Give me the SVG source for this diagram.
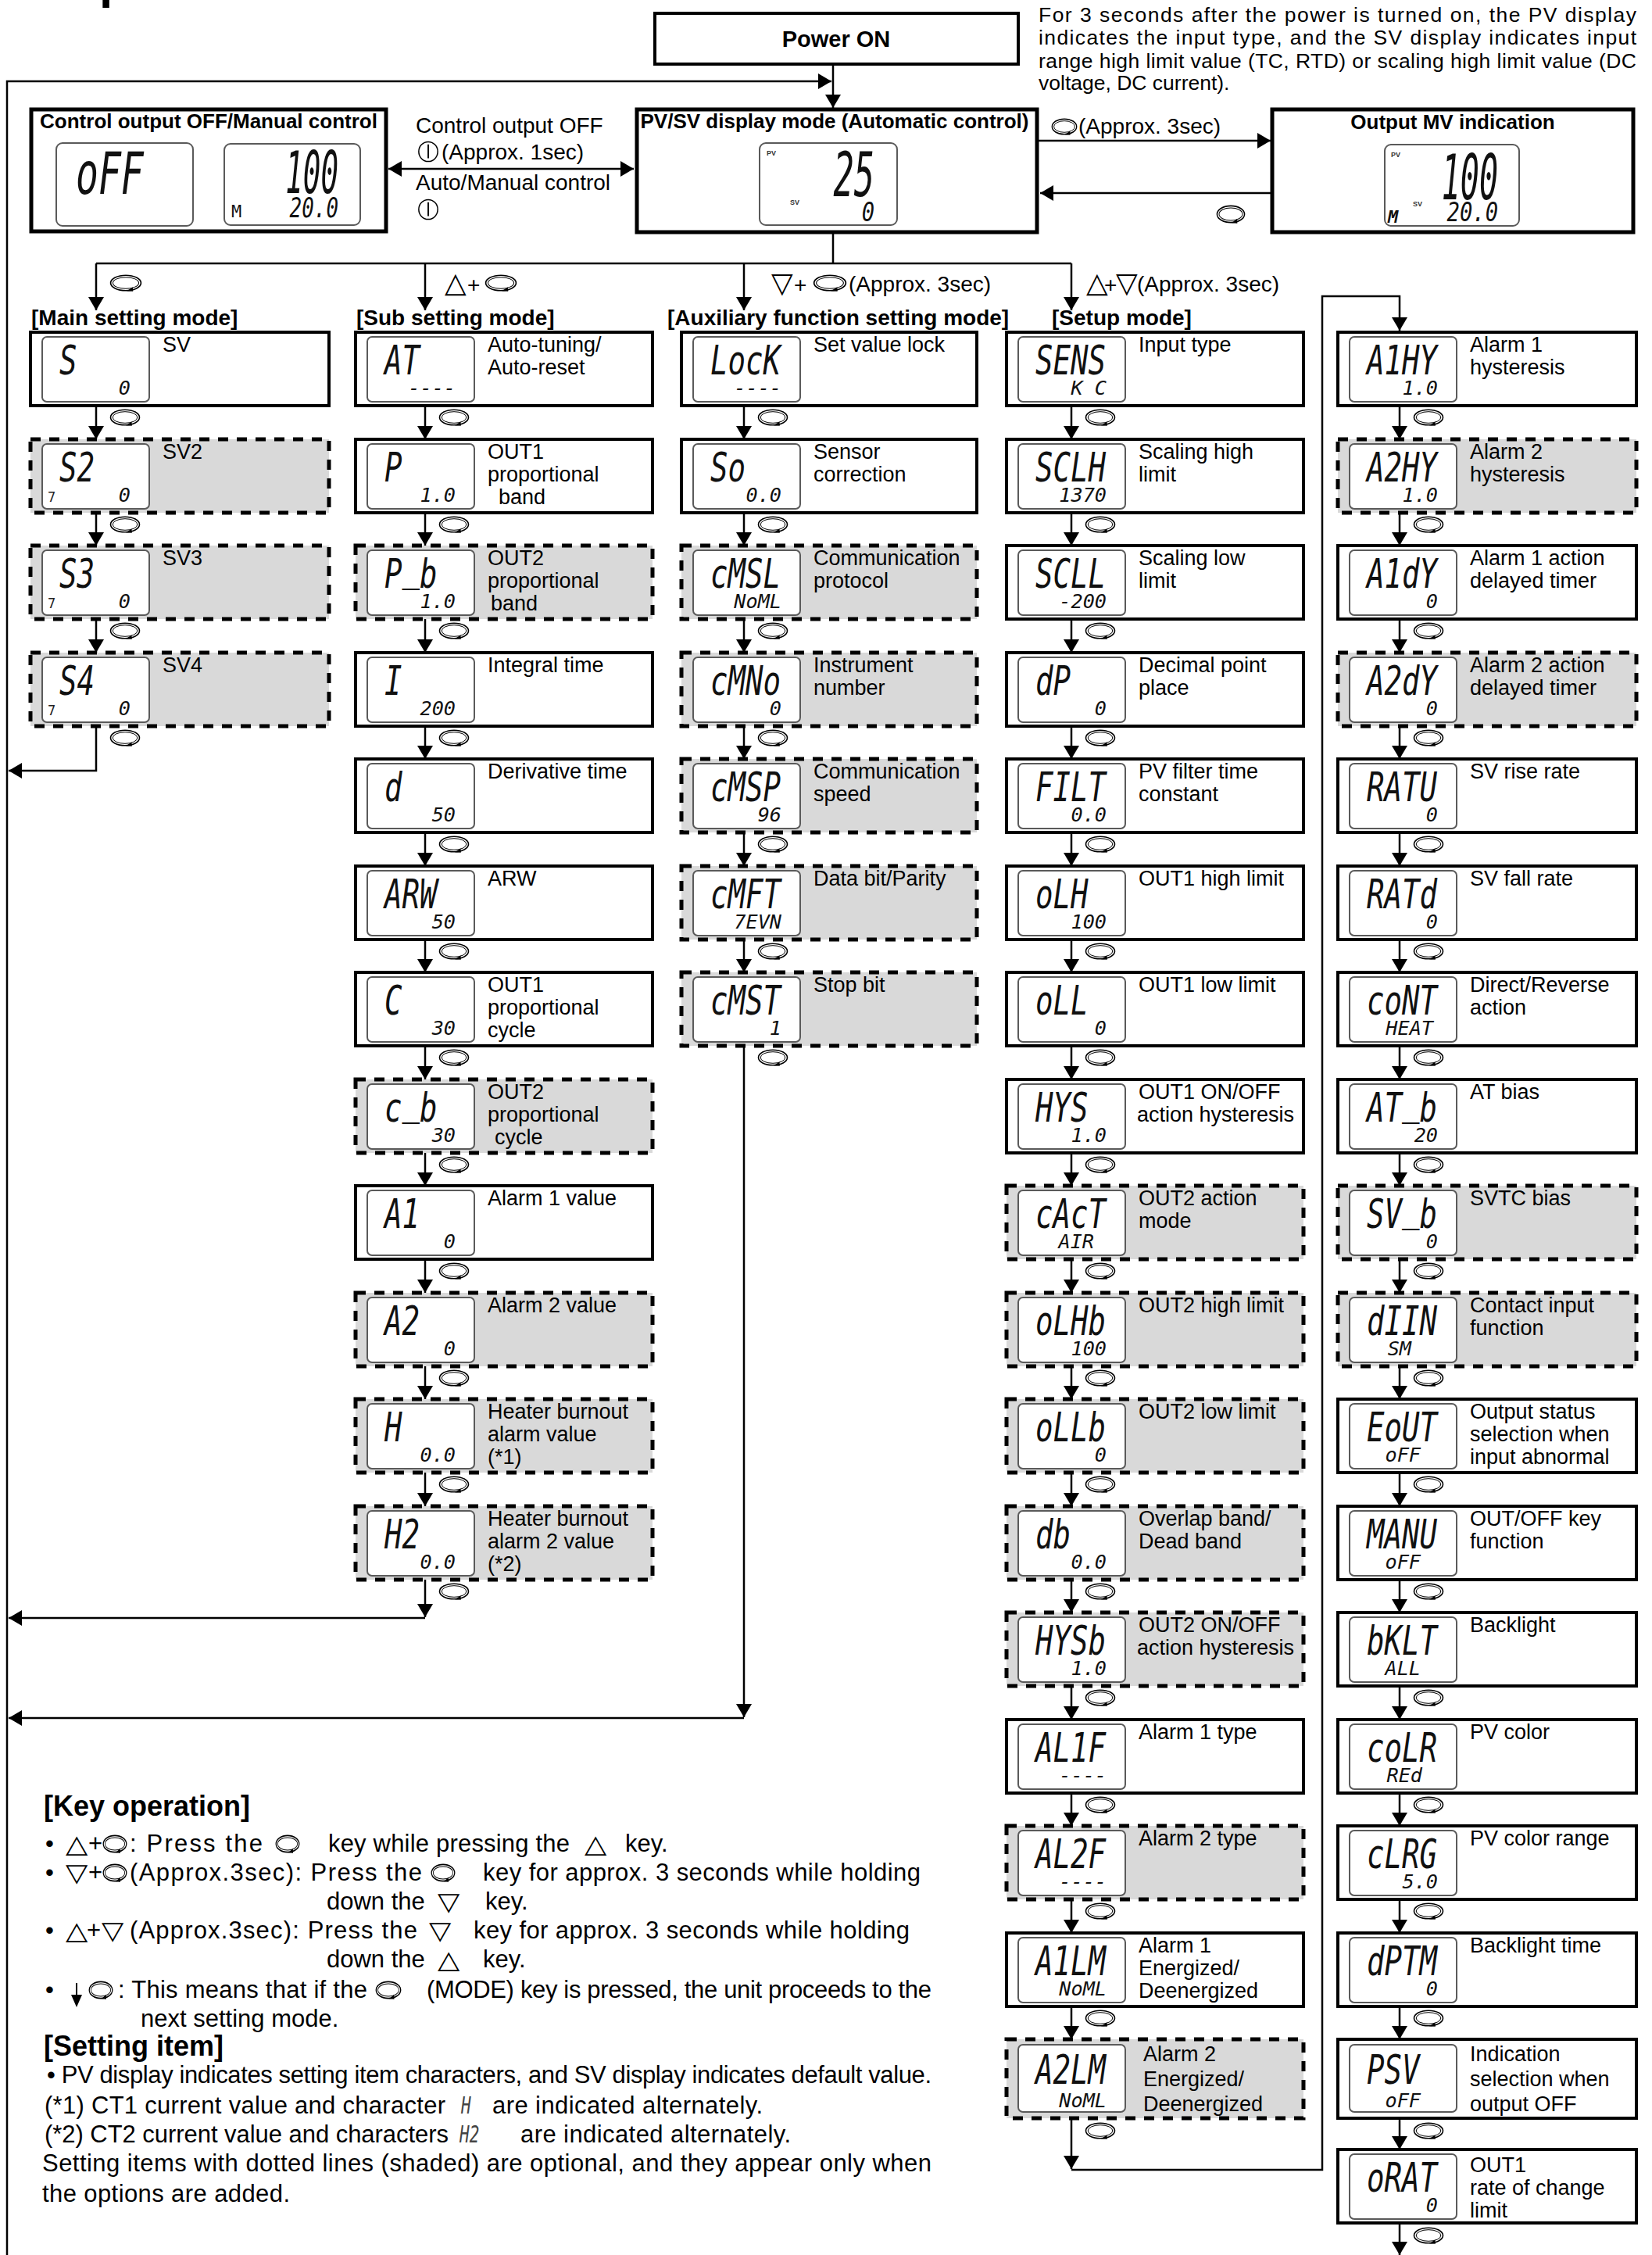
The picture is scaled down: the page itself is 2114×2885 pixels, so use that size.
<svg xmlns="http://www.w3.org/2000/svg" width="2114" height="2885" viewBox="0 0 2114 2885">
<defs>
<style>
.bx{fill:#fff;stroke:#000;stroke-width:4}
.bt{fill:#fff;stroke:#000;stroke-width:5}
.bd{fill:#d9d9d9;stroke:#000;stroke-width:5;stroke-dasharray:13 11}
.lc{fill:#fff;stroke:#5a5a5a;stroke-width:2}
.lb{font-family:"Liberation Sans",Arial,sans-serif;font-size:27px;fill:#000}
.sg{font-family:"DejaVu Sans Mono",monospace;font-style:oblique;font-size:52px;fill:#111}
.sb{font-family:"DejaVu Sans Mono",monospace;font-style:oblique;font-size:24px;fill:#111;text-anchor:end}
.sm{font-family:"DejaVu Sans Mono",monospace;font-size:17px;fill:#222}
.tiny{font-family:"Liberation Sans",Arial,sans-serif;font-weight:bold;font-size:9px;fill:#333}
.hd{font-family:"Liberation Sans",Arial,sans-serif;font-weight:bold;font-size:28px}
.tt{font-family:"Liberation Sans",Arial,sans-serif;font-weight:bold;font-size:26px;text-anchor:middle}
.cl{font-family:"Liberation Sans",Arial,sans-serif;font-size:28px}
.nt{font-family:"Liberation Sans",Arial,sans-serif;font-size:26.5px}
.kb{font-family:"Liberation Sans",Arial,sans-serif;font-size:31px}
.kh{font-family:"Liberation Sans",Arial,sans-serif;font-weight:bold;font-size:36px}
.tr{font-family:"DejaVu Sans",sans-serif;font-size:36px}
.tk{font-family:"DejaVu Sans",sans-serif;font-size:32px}
.ln{fill:none;stroke:#000;stroke-width:2.5}
.ar{fill:none;stroke:#000;stroke-width:2.5;marker-end:url(#ah)}
</style>
<marker id="ah" viewBox="0 0 17 20" refX="17" refY="10" markerWidth="17" markerHeight="20" markerUnits="userSpaceOnUse" orient="auto-start-reverse"><path d="M0,0L17,10L0,20Z" fill="#000"/></marker>
<symbol id="mk" viewBox="0 0 40 22" preserveAspectRatio="none"><ellipse cx="20" cy="11" rx="18.5" ry="9.8" fill="none" stroke="#000" stroke-width="1.6"/><ellipse cx="20" cy="11" rx="15.8" ry="7.3" fill="none" stroke="#000" stroke-width="1"/><path d="M21,21.2L28.5,16.5L28.8,21.8Z" fill="#000"/></symbol>
<symbol id="ko" viewBox="0 0 30 30"><ellipse cx="15" cy="15" rx="13" ry="13.5" fill="none" stroke="#000" stroke-width="1.6"/><path d="M15 5V24" stroke="#000" stroke-width="2"/></symbol>
</defs>
<rect width="2114" height="2885" fill="#fff"/>
<text x="127" y="-3" style="font-family:'Liberation Sans',Arial,sans-serif;font-weight:bold;font-size:62px">p</text>

<g id="note">
<text class="nt" x="1329" y="28" textLength="765" lengthAdjust="spacing">For 3 seconds after the power is turned on, the PV display</text>
<text class="nt" x="1329" y="57" textLength="765" lengthAdjust="spacing">indicates the input type, and the SV display indicates input</text>
<text class="nt" x="1329" y="87" textLength="765" lengthAdjust="spacing">range high limit value (TC, RTD) or scaling high limit value (DC</text>
<text class="nt" x="1329" y="115">voltage, DC current).</text>
</g>

<g id="nodes">
<g id="n-power"><rect class="bx" x="838" y="17" width="465" height="65"/><text class="tt" x="1070" y="60" style="font-size:29px">Power ON</text></g>

<g id="n-ctrloff"><rect class="bt" x="40" y="140" width="454" height="156"/><text class="tt" x="267" y="164">Control output OFF/Manual control</text>
<rect class="lc" x="72" y="183" width="175" height="106" rx="8"/><text class="sg" style="font-size:75px" transform="matrix(.64 0 0 1 97 248)">oFF</text>
<rect class="lc" x="287" y="184" width="174" height="104" rx="8"/><text class="sg" style="font-size:75px;text-anchor:end" transform="matrix(.5 0 0 1 433 247)">100</text><text class="sg" style="font-size:22px;font-style:normal" x="296" y="278">M</text><text class="sb" style="font-size:36px" transform="matrix(.72 0 0 1 433 278)">20.0</text></g>

<g id="n-pvsv"><rect class="bt" x="815" y="140" width="512" height="157"/><text class="tt" x="1068" y="164">PV/SV display mode (Automatic control)</text>
<rect class="lc" x="972" y="183" width="176" height="105" rx="8"/><text class="tiny" x="981" y="199">PV</text><text class="tiny" x="1011" y="262">SV</text><text class="sg" style="font-size:78px;text-anchor:end" transform="matrix(.56 0 0 1 1119 251)">25</text><text class="sb" style="font-size:34px" transform="matrix(.8 0 0 1 1119 283)">0</text></g>

<g id="n-mv"><rect class="bt" x="1628" y="140" width="462" height="157"/><text class="tt" x="1859" y="165">Output MV indication</text>
<rect class="lc" x="1772" y="185" width="172" height="104" rx="8"/><text class="tiny" x="1780" y="201">PV</text><text class="tiny" x="1808" y="264">SV</text><text class="sg" style="font-size:80px;text-anchor:end" transform="matrix(.5 0 0 1 1917 255)">100</text><text class="sg" style="font-size:22px;font-weight:bold" x="1776" y="285">M</text><text class="sb" style="font-size:34px" transform="matrix(.8 0 0 1 1917 283)">20.0</text></g>

<!-- Main setting mode -->
<text class="hd" x="40" y="416">[Main setting mode]</text>
<g id="n-sv"><rect class="bx" x="39" y="425" width="382" height="94"/><rect class="lc" x="54" y="431" width="137" height="83" rx="6"/><text class="sg" transform="matrix(.72 0 0 1 76 479)">S</text><text class="sb" transform="matrix(1.05 0 0 1 167 505)">0</text><text class="lb" x="208" y="450">SV</text></g>
<g id="n-sv2"><rect class="bd" x="39" y="562" width="382" height="94"/><rect class="lc" x="54" y="568" width="137" height="83" rx="6"/><text class="sg" transform="matrix(.72 0 0 1 76 616)">S2</text><text class="sm" x="61" y="642">7</text><text class="sb" transform="matrix(1.05 0 0 1 167 642)">0</text><text class="lb" x="208" y="587">SV2</text></g>
<g id="n-sv3"><rect class="bd" x="39" y="698" width="382" height="94"/><rect class="lc" x="54" y="704" width="137" height="83" rx="6"/><text class="sg" transform="matrix(.72 0 0 1 76 752)">S3</text><text class="sm" x="61" y="778">7</text><text class="sb" transform="matrix(1.05 0 0 1 167 778)">0</text><text class="lb" x="208" y="723">SV3</text></g>
<g id="n-sv4"><rect class="bd" x="39" y="835" width="382" height="94"/><rect class="lc" x="54" y="841" width="137" height="83" rx="6"/><text class="sg" transform="matrix(.72 0 0 1 76 889)">S4</text><text class="sm" x="61" y="915">7</text><text class="sb" transform="matrix(1.05 0 0 1 167 915)">0</text><text class="lb" x="208" y="860">SV4</text></g>

<!-- Sub setting mode -->
<text class="hd" x="456" y="416">[Sub setting mode]</text>
<g id="n-at"><rect class="bx" x="455" y="425" width="380" height="94"/><rect class="lc" x="470" y="431" width="137" height="83" rx="6"/><text class="sg" transform="matrix(.72 0 0 1 492 479)">AT</text><text class="sb" transform="matrix(1.05 0 0 1 583 505)">----</text><text class="lb" x="624" y="450">Auto-tuning/</text><text class="lb" x="624" y="479">Auto-reset</text></g>
<g id="n-p"><rect class="bx" x="455" y="562" width="380" height="94"/><rect class="lc" x="470" y="568" width="137" height="83" rx="6"/><text class="sg" transform="matrix(.72 0 0 1 492 616)">P</text><text class="sb" transform="matrix(1.05 0 0 1 583 642)">1.0</text><text class="lb" x="624" y="587">OUT1</text><text class="lb" x="624" y="616">proportional</text><text class="lb" x="638" y="645">band</text></g>
<g id="n-pb"><rect class="bd" x="455" y="698" width="380" height="94"/><rect class="lc" x="470" y="704" width="137" height="83" rx="6"/><text class="sg" transform="matrix(.72 0 0 1 492 752)">P<tspan dy="-9">_</tspan><tspan dy="9">b</tspan></text><text class="sb" transform="matrix(1.05 0 0 1 583 778)">1.0</text><text class="lb" x="624" y="723">OUT2</text><text class="lb" x="624" y="752">proportional</text><text class="lb" x="628" y="781">band</text></g>
<g id="n-i"><rect class="bx" x="455" y="835" width="380" height="94"/><rect class="lc" x="470" y="841" width="137" height="83" rx="6"/><text class="sg" transform="matrix(.72 0 0 1 492 889)">I</text><text class="sb" transform="matrix(1.05 0 0 1 583 915)">200</text><text class="lb" x="624" y="860">Integral time</text></g>
<g id="n-d"><rect class="bx" x="455" y="971" width="380" height="94"/><rect class="lc" x="470" y="977" width="137" height="83" rx="6"/><text class="sg" transform="matrix(.72 0 0 1 492 1025)">d</text><text class="sb" transform="matrix(1.05 0 0 1 583 1051)">50</text><text class="lb" x="624" y="996">Derivative time</text></g>
<g id="n-arw"><rect class="bx" x="455" y="1108" width="380" height="94"/><rect class="lc" x="470" y="1114" width="137" height="83" rx="6"/><text class="sg" transform="matrix(.72 0 0 1 492 1162)">ARW</text><text class="sb" transform="matrix(1.05 0 0 1 583 1188)">50</text><text class="lb" x="624" y="1133">ARW</text></g>
<g id="n-c"><rect class="bx" x="455" y="1244" width="380" height="94"/><rect class="lc" x="470" y="1250" width="137" height="83" rx="6"/><text class="sg" transform="matrix(.72 0 0 1 492 1298)">C</text><text class="sb" transform="matrix(1.05 0 0 1 583 1324)">30</text><text class="lb" x="624" y="1269">OUT1</text><text class="lb" x="624" y="1298">proportional</text><text class="lb" x="624" y="1327">cycle</text></g>
<g id="n-cb"><rect class="bd" x="455" y="1381" width="380" height="94"/><rect class="lc" x="470" y="1387" width="137" height="83" rx="6"/><text class="sg" transform="matrix(.72 0 0 1 492 1435)">c<tspan dy="-9">_</tspan><tspan dy="9">b</tspan></text><text class="sb" transform="matrix(1.05 0 0 1 583 1461)">30</text><text class="lb" x="624" y="1406">OUT2</text><text class="lb" x="624" y="1435">proportional</text><text class="lb" x="633" y="1464">cycle</text></g>
<g id="n-a1"><rect class="bx" x="455" y="1517" width="380" height="94"/><rect class="lc" x="470" y="1523" width="137" height="83" rx="6"/><text class="sg" transform="matrix(.72 0 0 1 492 1571)">A1</text><text class="sb" transform="matrix(1.05 0 0 1 583 1597)">0</text><text class="lb" x="624" y="1542">Alarm 1 value</text></g>
<g id="n-a2"><rect class="bd" x="455" y="1654" width="380" height="94"/><rect class="lc" x="470" y="1660" width="137" height="83" rx="6"/><text class="sg" transform="matrix(.72 0 0 1 492 1708)">A2</text><text class="sb" transform="matrix(1.05 0 0 1 583 1734)">0</text><text class="lb" x="624" y="1679">Alarm 2 value</text></g>
<g id="n-h"><rect class="bd" x="455" y="1790" width="380" height="94"/><rect class="lc" x="470" y="1796" width="137" height="83" rx="6"/><text class="sg" transform="matrix(.72 0 0 1 492 1844)">H</text><text class="sb" transform="matrix(1.05 0 0 1 583 1870)">0.0</text><text class="lb" x="624" y="1815">Heater burnout</text><text class="lb" x="624" y="1844">alarm value</text><text class="lb" x="624" y="1873">(*1)</text></g>
<g id="n-h2"><rect class="bd" x="455" y="1927" width="380" height="94"/><rect class="lc" x="470" y="1933" width="137" height="83" rx="6"/><text class="sg" transform="matrix(.72 0 0 1 492 1981)">H2</text><text class="sb" transform="matrix(1.05 0 0 1 583 2007)">0.0</text><text class="lb" x="624" y="1952">Heater burnout</text><text class="lb" x="624" y="1981">alarm 2 value</text><text class="lb" x="624" y="2010">(*2)</text></g>

<!-- Auxiliary -->
<text class="hd" x="854" y="416">[Auxiliary function setting mode]</text>
<g id="n-lock"><rect class="bx" x="872" y="425" width="378" height="94"/><rect class="lc" x="887" y="431" width="137" height="83" rx="6"/><text class="sg" transform="matrix(.72 0 0 1 909 479)">LocK</text><text class="sb" transform="matrix(1.05 0 0 1 1000 505)">----</text><text class="lb" x="1041" y="450">Set value lock</text></g>
<g id="n-so"><rect class="bx" x="872" y="562" width="378" height="94"/><rect class="lc" x="887" y="568" width="137" height="83" rx="6"/><text class="sg" transform="matrix(.72 0 0 1 909 616)">So</text><text class="sb" transform="matrix(1.05 0 0 1 1000 642)">0.0</text><text class="lb" x="1041" y="587">Sensor</text><text class="lb" x="1041" y="616">correction</text></g>
<g id="n-cmsl"><rect class="bd" x="872" y="698" width="378" height="94"/><rect class="lc" x="887" y="704" width="137" height="83" rx="6"/><text class="sg" transform="matrix(.72 0 0 1 909 752)">cMSL</text><text class="sb" transform="matrix(1.05 0 0 1 1000 778)">NoML</text><text class="lb" x="1041" y="723">Communication</text><text class="lb" x="1041" y="752">protocol</text></g>
<g id="n-cmno"><rect class="bd" x="872" y="835" width="378" height="94"/><rect class="lc" x="887" y="841" width="137" height="83" rx="6"/><text class="sg" transform="matrix(.72 0 0 1 909 889)">cMNo</text><text class="sb" transform="matrix(1.05 0 0 1 1000 915)">0</text><text class="lb" x="1041" y="860">Instrument</text><text class="lb" x="1041" y="889">number</text></g>
<g id="n-cmsp"><rect class="bd" x="872" y="971" width="378" height="94"/><rect class="lc" x="887" y="977" width="137" height="83" rx="6"/><text class="sg" transform="matrix(.72 0 0 1 909 1025)">cMSP</text><text class="sb" transform="matrix(1.05 0 0 1 1000 1051)">96</text><text class="lb" x="1041" y="996">Communication</text><text class="lb" x="1041" y="1025">speed</text></g>
<g id="n-cmft"><rect class="bd" x="872" y="1108" width="378" height="94"/><rect class="lc" x="887" y="1114" width="137" height="83" rx="6"/><text class="sg" transform="matrix(.72 0 0 1 909 1162)">cMFT</text><text class="sb" transform="matrix(1.05 0 0 1 1000 1188)">7EVN</text><text class="lb" x="1041" y="1133">Data bit/Parity</text></g>
<g id="n-cmst"><rect class="bd" x="872" y="1244" width="378" height="94"/><rect class="lc" x="887" y="1250" width="137" height="83" rx="6"/><text class="sg" transform="matrix(.72 0 0 1 909 1298)">cMST</text><text class="sb" transform="matrix(1.05 0 0 1 1000 1324)">1</text><text class="lb" x="1041" y="1269">Stop bit</text></g>

<!-- Setup mode -->
<text class="hd" x="1346" y="416">[Setup mode]</text>
<g id="n-sens"><rect class="bx" x="1288" y="425" width="380" height="94"/><rect class="lc" x="1303" y="431" width="137" height="83" rx="6"/><text class="sg" transform="matrix(.72 0 0 1 1325 479)">SENS</text><text class="sb" transform="matrix(1.05 0 0 1 1416 505)">K  C</text><text class="lb" x="1457" y="450">Input type</text></g>
<g id="n-sclh"><rect class="bx" x="1288" y="562" width="380" height="94"/><rect class="lc" x="1303" y="568" width="137" height="83" rx="6"/><text class="sg" transform="matrix(.72 0 0 1 1325 616)">SCLH</text><text class="sb" transform="matrix(1.05 0 0 1 1416 642)">1370</text><text class="lb" x="1457" y="587">Scaling high</text><text class="lb" x="1457" y="616">limit</text></g>
<g id="n-scll"><rect class="bx" x="1288" y="698" width="380" height="94"/><rect class="lc" x="1303" y="704" width="137" height="83" rx="6"/><text class="sg" transform="matrix(.72 0 0 1 1325 752)">SCLL</text><text class="sb" transform="matrix(1.05 0 0 1 1416 778)">-200</text><text class="lb" x="1457" y="723">Scaling low</text><text class="lb" x="1457" y="752">limit</text></g>
<g id="n-dp"><rect class="bx" x="1288" y="835" width="380" height="94"/><rect class="lc" x="1303" y="841" width="137" height="83" rx="6"/><text class="sg" transform="matrix(.72 0 0 1 1325 889)">dP</text><text class="sb" transform="matrix(1.05 0 0 1 1416 915)">0</text><text class="lb" x="1457" y="860">Decimal point</text><text class="lb" x="1457" y="889">place</text></g>
<g id="n-filt"><rect class="bx" x="1288" y="971" width="380" height="94"/><rect class="lc" x="1303" y="977" width="137" height="83" rx="6"/><text class="sg" transform="matrix(.72 0 0 1 1325 1025)">FILT</text><text class="sb" transform="matrix(1.05 0 0 1 1416 1051)">0.0</text><text class="lb" x="1457" y="996">PV filter time</text><text class="lb" x="1457" y="1025">constant</text></g>
<g id="n-olh"><rect class="bx" x="1288" y="1108" width="380" height="94"/><rect class="lc" x="1303" y="1114" width="137" height="83" rx="6"/><text class="sg" transform="matrix(.72 0 0 1 1325 1162)">oLH</text><text class="sb" transform="matrix(1.05 0 0 1 1416 1188)">100</text><text class="lb" x="1457" y="1133">OUT1 high limit</text></g>
<g id="n-oll"><rect class="bx" x="1288" y="1244" width="380" height="94"/><rect class="lc" x="1303" y="1250" width="137" height="83" rx="6"/><text class="sg" transform="matrix(.72 0 0 1 1325 1298)">oLL</text><text class="sb" transform="matrix(1.05 0 0 1 1416 1324)">0</text><text class="lb" x="1457" y="1269">OUT1 low limit</text></g>
<g id="n-hys"><rect class="bx" x="1288" y="1381" width="380" height="94"/><rect class="lc" x="1303" y="1387" width="137" height="83" rx="6"/><text class="sg" transform="matrix(.72 0 0 1 1325 1435)">HYS</text><text class="sb" transform="matrix(1.05 0 0 1 1416 1461)">1.0</text><text class="lb" x="1457" y="1406">OUT1 ON/OFF</text><text class="lb" x="1455" y="1435">action hysteresis</text></g>
<g id="n-cact"><rect class="bd" x="1288" y="1517" width="380" height="94"/><rect class="lc" x="1303" y="1523" width="137" height="83" rx="6"/><text class="sg" transform="matrix(.72 0 0 1 1325 1571)">cAcT</text><text class="sb" transform="matrix(1.05 0 0 1 1400 1597)">AIR</text><text class="lb" x="1457" y="1542">OUT2 action</text><text class="lb" x="1457" y="1571">mode</text></g>
<g id="n-olhb"><rect class="bd" x="1288" y="1654" width="380" height="94"/><rect class="lc" x="1303" y="1660" width="137" height="83" rx="6"/><text class="sg" transform="matrix(.72 0 0 1 1325 1708)">oLHb</text><text class="sb" transform="matrix(1.05 0 0 1 1416 1734)">100</text><text class="lb" x="1457" y="1679">OUT2 high limit</text></g>
<g id="n-ollb"><rect class="bd" x="1288" y="1790" width="380" height="94"/><rect class="lc" x="1303" y="1796" width="137" height="83" rx="6"/><text class="sg" transform="matrix(.72 0 0 1 1325 1844)">oLLb</text><text class="sb" transform="matrix(1.05 0 0 1 1416 1870)">0</text><text class="lb" x="1457" y="1815">OUT2 low limit</text></g>
<g id="n-db"><rect class="bd" x="1288" y="1927" width="380" height="94"/><rect class="lc" x="1303" y="1933" width="137" height="83" rx="6"/><text class="sg" transform="matrix(.72 0 0 1 1325 1981)">db</text><text class="sb" transform="matrix(1.05 0 0 1 1416 2007)">0.0</text><text class="lb" x="1457" y="1952">Overlap band/</text><text class="lb" x="1457" y="1981">Dead band</text></g>
<g id="n-hysb"><rect class="bd" x="1288" y="2063" width="380" height="94"/><rect class="lc" x="1303" y="2069" width="137" height="83" rx="6"/><text class="sg" transform="matrix(.72 0 0 1 1325 2117)">HYSb</text><text class="sb" transform="matrix(1.05 0 0 1 1416 2143)">1.0</text><text class="lb" x="1457" y="2088">OUT2 ON/OFF</text><text class="lb" x="1455" y="2117">action hysteresis</text></g>
<g id="n-al1f"><rect class="bx" x="1288" y="2200" width="380" height="94"/><rect class="lc" x="1303" y="2206" width="137" height="83" rx="6"/><text class="sg" transform="matrix(.72 0 0 1 1325 2254)">AL1F</text><text class="sb" transform="matrix(1.05 0 0 1 1416 2280)">----</text><text class="lb" x="1457" y="2225">Alarm 1 type</text></g>
<g id="n-al2f"><rect class="bd" x="1288" y="2336" width="380" height="94"/><rect class="lc" x="1303" y="2342" width="137" height="83" rx="6"/><text class="sg" transform="matrix(.72 0 0 1 1325 2390)">AL2F</text><text class="sb" transform="matrix(1.05 0 0 1 1416 2416)">----</text><text class="lb" x="1457" y="2361">Alarm 2 type</text></g>
<g id="n-a1lm"><rect class="bx" x="1288" y="2473" width="380" height="94"/><rect class="lc" x="1303" y="2479" width="137" height="83" rx="6"/><text class="sg" transform="matrix(.72 0 0 1 1325 2527)">A1LM</text><text class="sb" transform="matrix(1.05 0 0 1 1416 2553)">NoML</text><text class="lb" x="1457" y="2498">Alarm 1</text><text class="lb" x="1457" y="2527">Energized/</text><text class="lb" x="1457" y="2556">Deenergized</text></g>
<g id="n-a2lm"><rect class="bd" x="1288" y="2609" width="380" height="101"/><rect class="lc" x="1303" y="2616" width="137" height="86" rx="6"/><text class="sg" transform="matrix(.72 0 0 1 1325 2666)">A2LM</text><text class="sb" transform="matrix(1.05 0 0 1 1416 2696)">NoML</text><text class="lb" x="1463" y="2637">Alarm 2</text><text class="lb" x="1463" y="2669">Energized/</text><text class="lb" x="1463" y="2701">Deenergized</text></g>

<!-- Right column -->
<g id="n-a1hy"><rect class="bx" x="1712" y="425" width="382" height="94"/><rect class="lc" x="1727" y="431" width="137" height="83" rx="6"/><text class="sg" transform="matrix(.72 0 0 1 1749 479)">A1HY</text><text class="sb" transform="matrix(1.05 0 0 1 1840 505)">1.0</text><text class="lb" x="1881" y="450">Alarm 1</text><text class="lb" x="1881" y="479">hysteresis</text></g>
<g id="n-a2hy"><rect class="bd" x="1712" y="562" width="382" height="94"/><rect class="lc" x="1727" y="568" width="137" height="83" rx="6"/><text class="sg" transform="matrix(.72 0 0 1 1749 616)">A2HY</text><text class="sb" transform="matrix(1.05 0 0 1 1840 642)">1.0</text><text class="lb" x="1881" y="587">Alarm 2</text><text class="lb" x="1881" y="616">hysteresis</text></g>
<g id="n-a1dy"><rect class="bx" x="1712" y="698" width="382" height="94"/><rect class="lc" x="1727" y="704" width="137" height="83" rx="6"/><text class="sg" transform="matrix(.72 0 0 1 1749 752)">A1dY</text><text class="sb" transform="matrix(1.05 0 0 1 1840 778)">0</text><text class="lb" x="1881" y="723">Alarm 1 action</text><text class="lb" x="1881" y="752">delayed timer</text></g>
<g id="n-a2dy"><rect class="bd" x="1712" y="835" width="382" height="94"/><rect class="lc" x="1727" y="841" width="137" height="83" rx="6"/><text class="sg" transform="matrix(.72 0 0 1 1749 889)">A2dY</text><text class="sb" transform="matrix(1.05 0 0 1 1840 915)">0</text><text class="lb" x="1881" y="860">Alarm 2 action</text><text class="lb" x="1881" y="889">delayed timer</text></g>
<g id="n-ratu"><rect class="bx" x="1712" y="971" width="382" height="94"/><rect class="lc" x="1727" y="977" width="137" height="83" rx="6"/><text class="sg" transform="matrix(.72 0 0 1 1749 1025)">RATU</text><text class="sb" transform="matrix(1.05 0 0 1 1840 1051)">0</text><text class="lb" x="1881" y="996">SV rise rate</text></g>
<g id="n-ratd"><rect class="bx" x="1712" y="1108" width="382" height="94"/><rect class="lc" x="1727" y="1114" width="137" height="83" rx="6"/><text class="sg" transform="matrix(.72 0 0 1 1749 1162)">RATd</text><text class="sb" transform="matrix(1.05 0 0 1 1840 1188)">0</text><text class="lb" x="1881" y="1133">SV fall rate</text></g>
<g id="n-cont"><rect class="bx" x="1712" y="1244" width="382" height="94"/><rect class="lc" x="1727" y="1250" width="137" height="83" rx="6"/><text class="sg" transform="matrix(.72 0 0 1 1749 1298)">coNT</text><text class="sb" transform="matrix(1.05 0 0 1 1834 1324)">HEAT</text><text class="lb" x="1881" y="1269">Direct/Reverse</text><text class="lb" x="1881" y="1298">action</text></g>
<g id="n-atb"><rect class="bx" x="1712" y="1381" width="382" height="94"/><rect class="lc" x="1727" y="1387" width="137" height="83" rx="6"/><text class="sg" transform="matrix(.72 0 0 1 1749 1435)">AT<tspan dy="-9">_</tspan><tspan dy="9">b</tspan></text><text class="sb" transform="matrix(1.05 0 0 1 1840 1461)">20</text><text class="lb" x="1881" y="1406">AT bias</text></g>
<g id="n-svb"><rect class="bd" x="1712" y="1517" width="382" height="94"/><rect class="lc" x="1727" y="1523" width="137" height="83" rx="6"/><text class="sg" transform="matrix(.72 0 0 1 1749 1571)">SV<tspan dy="-9">_</tspan><tspan dy="9">b</tspan></text><text class="sb" transform="matrix(1.05 0 0 1 1840 1597)">0</text><text class="lb" x="1881" y="1542">SVTC bias</text></g>
<g id="n-diin"><rect class="bd" x="1712" y="1654" width="382" height="94"/><rect class="lc" x="1727" y="1660" width="137" height="83" rx="6"/><text class="sg" transform="matrix(.72 0 0 1 1749 1708)">dIIN</text><text class="sb" transform="matrix(1.05 0 0 1 1806 1734)">SM</text><text class="lb" x="1881" y="1679">Contact input</text><text class="lb" x="1881" y="1708">function</text></g>
<g id="n-eout"><rect class="bx" x="1712" y="1790" width="382" height="94"/><rect class="lc" x="1727" y="1796" width="137" height="83" rx="6"/><text class="sg" transform="matrix(.72 0 0 1 1749 1844)">EoUT</text><text class="sb" transform="matrix(1.05 0 0 1 1818 1870)">oFF</text><text class="lb" x="1881" y="1815">Output status</text><text class="lb" x="1881" y="1844">selection when</text><text class="lb" x="1881" y="1873">input abnormal</text></g>
<g id="n-manu"><rect class="bx" x="1712" y="1927" width="382" height="94"/><rect class="lc" x="1727" y="1933" width="137" height="83" rx="6"/><text class="sg" transform="matrix(.72 0 0 1 1749 1981)">MANU</text><text class="sb" transform="matrix(1.05 0 0 1 1818 2007)">oFF</text><text class="lb" x="1881" y="1952">OUT/OFF key</text><text class="lb" x="1881" y="1981">function</text></g>
<g id="n-bklt"><rect class="bx" x="1712" y="2063" width="382" height="94"/><rect class="lc" x="1727" y="2069" width="137" height="83" rx="6"/><text class="sg" transform="matrix(.72 0 0 1 1749 2117)">bKLT</text><text class="sb" transform="matrix(1.05 0 0 1 1818 2143)">ALL</text><text class="lb" x="1881" y="2088">Backlight</text></g>
<g id="n-colr"><rect class="bx" x="1712" y="2200" width="382" height="94"/><rect class="lc" x="1727" y="2206" width="137" height="83" rx="6"/><text class="sg" transform="matrix(.72 0 0 1 1749 2254)">coLR</text><text class="sb" transform="matrix(1.05 0 0 1 1820 2280)">REd</text><text class="lb" x="1881" y="2225">PV color</text></g>
<g id="n-clrg"><rect class="bx" x="1712" y="2336" width="382" height="94"/><rect class="lc" x="1727" y="2342" width="137" height="83" rx="6"/><text class="sg" transform="matrix(.72 0 0 1 1749 2390)">cLRG</text><text class="sb" transform="matrix(1.05 0 0 1 1840 2416)">5.0</text><text class="lb" x="1881" y="2361">PV color range</text></g>
<g id="n-dptm"><rect class="bx" x="1712" y="2473" width="382" height="94"/><rect class="lc" x="1727" y="2479" width="137" height="83" rx="6"/><text class="sg" transform="matrix(.72 0 0 1 1749 2527)">dPTM</text><text class="sb" transform="matrix(1.05 0 0 1 1840 2553)">0</text><text class="lb" x="1881" y="2498">Backlight time</text></g>
<g id="n-psv"><rect class="bx" x="1712" y="2609" width="382" height="101"/><rect class="lc" x="1727" y="2616" width="137" height="86" rx="6"/><text class="sg" transform="matrix(.72 0 0 1 1749 2666)">PSV</text><text class="sb" transform="matrix(1.05 0 0 1 1818 2696)">oFF</text><text class="lb" x="1881" y="2637">Indication</text><text class="lb" x="1881" y="2669">selection when</text><text class="lb" x="1881" y="2701">output OFF</text></g>
<g id="n-orat"><rect class="bx" x="1712" y="2750" width="382" height="94"/><rect class="lc" x="1727" y="2756" width="137" height="83" rx="6"/><text class="sg" transform="matrix(.72 0 0 1 1749 2804)">oRAT</text><text class="sb" transform="matrix(1.05 0 0 1 1840 2830)">0</text><text class="lb" x="1881" y="2779">OUT1</text><text class="lb" x="1881" y="2808">rate of change</text><text class="lb" x="1881" y="2837">limit</text></g>
</g>

<g id="connectors">
<path class="ar" d="M9 2885V104H1064"/>
<path class="ar" d="M1066 82V138"/>
<path class="ln" d="M497 216H811" style="marker-start:url(#ah);marker-end:url(#ah)"/>
<path class="ar" d="M1327 180H1626"/>
<path class="ar" d="M1628 247H1331"/>
<path class="ln" d="M1066 297V337M123 337H1371"/>
<path class="ar" d="M123 337V397"/>
<path class="ar" d="M544 337V397"/>
<path class="ar" d="M952 337V397"/>
<path class="ar" d="M1371 337V397"/>
<use href="#ko" x="534" y="180" width="28" height="28"/>
<use href="#ko" x="534" y="254" width="28" height="28"/>
<text class="cl" x="532" y="170">Control output OFF</text>
<text class="cl" x="565" y="204">(Approx. 1sec)</text>
<text class="cl" x="532" y="243">Auto/Manual control</text>
<use href="#mk" x="1345" y="151" width="34" height="22"/>
<text class="cl" x="1380" y="171">(Approx. 3sec)</text>
<use href="#mk" x="1556" y="262" width="38" height="24"/>
<use href="#mk" x="140" y="351" width="42" height="22"/>
<text class="cl" x="569" y="374"><tspan class="tr">△</tspan><tspan x="598">+</tspan></text>
<use href="#mk" x="620" y="351" width="42" height="22"/>
<text class="cl" x="987" y="374"><tspan class="tr">▽</tspan><tspan x="1016">+</tspan></text>
<use href="#mk" x="1040" y="351" width="44" height="22"/>
<text class="cl" x="1086" y="373">(Approx. 3sec)</text>
<text class="cl" x="1390" y="374"><tspan class="tr">△</tspan><tspan x="1413">+</tspan><tspan class="tr" x="1428">▽</tspan><tspan x="1455" y="373">(Approx. 3sec)</tspan></text>

<!-- col1 -->
<path class="ar" d="M123 519V562"/><path class="ar" d="M123 656V698"/><path class="ar" d="M123 792V835"/>
<path class="ar" d="M123 929V986H11"/>
<use href="#mk" x="140" y="523" width="40" height="22"/><use href="#mk" x="140" y="660" width="40" height="22"/><use href="#mk" x="140" y="796" width="40" height="22"/><use href="#mk" x="140" y="933" width="40" height="22"/>
<!-- col2 -->
<path class="ar" d="M544 519V562"/><path class="ar" d="M544 656V698"/><path class="ar" d="M544 792V835"/><path class="ar" d="M544 929V971"/><path class="ar" d="M544 1065V1108"/><path class="ar" d="M544 1202V1244"/><path class="ar" d="M544 1338V1381"/><path class="ar" d="M544 1475V1517"/><path class="ar" d="M544 1611V1654"/><path class="ar" d="M544 1748V1790"/><path class="ar" d="M544 1884V1927"/>
<path class="ar" d="M544 2021V2069"/><path class="ar" d="M544 2070H11"/>
<use href="#mk" x="561" y="523" width="40" height="22"/><use href="#mk" x="561" y="660" width="40" height="22"/><use href="#mk" x="561" y="796" width="40" height="22"/><use href="#mk" x="561" y="933" width="40" height="22"/><use href="#mk" x="561" y="1069" width="40" height="22"/><use href="#mk" x="561" y="1206" width="40" height="22"/><use href="#mk" x="561" y="1342" width="40" height="22"/><use href="#mk" x="561" y="1479" width="40" height="22"/><use href="#mk" x="561" y="1615" width="40" height="22"/><use href="#mk" x="561" y="1752" width="40" height="22"/><use href="#mk" x="561" y="1888" width="40" height="22"/><use href="#mk" x="561" y="2025" width="40" height="22"/>
<!-- col3 -->
<path class="ar" d="M952 519V562"/><path class="ar" d="M952 656V698"/><path class="ar" d="M952 792V835"/><path class="ar" d="M952 929V971"/><path class="ar" d="M952 1065V1108"/><path class="ar" d="M952 1202V1244"/>
<path class="ar" d="M952 1338V2197"/><path class="ar" d="M952 2198H11"/>
<use href="#mk" x="969" y="523" width="40" height="22"/><use href="#mk" x="969" y="660" width="40" height="22"/><use href="#mk" x="969" y="796" width="40" height="22"/><use href="#mk" x="969" y="933" width="40" height="22"/><use href="#mk" x="969" y="1069" width="40" height="22"/><use href="#mk" x="969" y="1206" width="40" height="22"/><use href="#mk" x="969" y="1342" width="40" height="22"/>
<!-- col4 -->
<path class="ar" d="M1371 519V562"/><path class="ar" d="M1371 656V698"/><path class="ar" d="M1371 792V835"/><path class="ar" d="M1371 929V971"/><path class="ar" d="M1371 1065V1108"/><path class="ar" d="M1371 1202V1244"/><path class="ar" d="M1371 1338V1381"/><path class="ar" d="M1371 1475V1517"/><path class="ar" d="M1371 1611V1654"/><path class="ar" d="M1371 1748V1790"/><path class="ar" d="M1371 1884V1927"/><path class="ar" d="M1371 2021V2063"/><path class="ar" d="M1371 2157V2200"/><path class="ar" d="M1371 2294V2336"/><path class="ar" d="M1371 2430V2473"/><path class="ar" d="M1371 2567V2609"/>
<path class="ar" d="M1371 2710V2775"/><path class="ar" d="M1371 2776H1692V379H1791V423"/>
<use href="#mk" x="1388" y="523" width="40" height="22"/><use href="#mk" x="1388" y="660" width="40" height="22"/><use href="#mk" x="1388" y="796" width="40" height="22"/><use href="#mk" x="1388" y="933" width="40" height="22"/><use href="#mk" x="1388" y="1069" width="40" height="22"/><use href="#mk" x="1388" y="1206" width="40" height="22"/><use href="#mk" x="1388" y="1342" width="40" height="22"/><use href="#mk" x="1388" y="1479" width="40" height="22"/><use href="#mk" x="1388" y="1615" width="40" height="22"/><use href="#mk" x="1388" y="1752" width="40" height="22"/><use href="#mk" x="1388" y="1888" width="40" height="22"/><use href="#mk" x="1388" y="2025" width="40" height="22"/><use href="#mk" x="1388" y="2161" width="40" height="22"/><use href="#mk" x="1388" y="2298" width="40" height="22"/><use href="#mk" x="1388" y="2434" width="40" height="22"/><use href="#mk" x="1388" y="2571" width="40" height="22"/><use href="#mk" x="1388" y="2715" width="40" height="22"/>
<!-- col5 -->
<path class="ar" d="M1791 519V562"/><path class="ar" d="M1791 656V698"/><path class="ar" d="M1791 792V835"/><path class="ar" d="M1791 929V971"/><path class="ar" d="M1791 1065V1108"/><path class="ar" d="M1791 1202V1244"/><path class="ar" d="M1791 1338V1381"/><path class="ar" d="M1791 1475V1517"/><path class="ar" d="M1791 1611V1654"/><path class="ar" d="M1791 1748V1790"/><path class="ar" d="M1791 1884V1927"/><path class="ar" d="M1791 2021V2063"/><path class="ar" d="M1791 2157V2200"/><path class="ar" d="M1791 2294V2336"/><path class="ar" d="M1791 2430V2473"/><path class="ar" d="M1791 2567V2609"/><path class="ar" d="M1791 2710V2750"/><path class="ar" d="M1791 2844V2885"/>
<use href="#mk" x="1808" y="523" width="40" height="22"/><use href="#mk" x="1808" y="660" width="40" height="22"/><use href="#mk" x="1808" y="796" width="40" height="22"/><use href="#mk" x="1808" y="933" width="40" height="22"/><use href="#mk" x="1808" y="1069" width="40" height="22"/><use href="#mk" x="1808" y="1206" width="40" height="22"/><use href="#mk" x="1808" y="1342" width="40" height="22"/><use href="#mk" x="1808" y="1479" width="40" height="22"/><use href="#mk" x="1808" y="1615" width="40" height="22"/><use href="#mk" x="1808" y="1752" width="40" height="22"/><use href="#mk" x="1808" y="1888" width="40" height="22"/><use href="#mk" x="1808" y="2025" width="40" height="22"/><use href="#mk" x="1808" y="2161" width="40" height="22"/><use href="#mk" x="1808" y="2298" width="40" height="22"/><use href="#mk" x="1808" y="2434" width="40" height="22"/><use href="#mk" x="1808" y="2571" width="40" height="22"/><use href="#mk" x="1808" y="2715" width="40" height="22"/><use href="#mk" x="1808" y="2849" width="40" height="22"/>
</g>

<g id="legend">
<text class="kh" x="56" y="2323">[Key operation]</text>
<text class="kb" x="58" y="2369">•</text><text class="tk" transform="matrix(1.15 0 0 1 84 2370)">△</text><text class="kb" x="113" y="2369">+</text>
<use href="#mk" x="131" y="2347" width="32" height="24"/>
<text class="kb" x="166" y="2369" textLength="170" lengthAdjust="spacing">: Press the</text>
<use href="#mk" x="352" y="2347" width="32" height="24"/>
<text class="kb" x="420" y="2369" textLength="309" lengthAdjust="spacing">key while pressing the</text>
<text class="tk" transform="matrix(1.15 0 0 1 748 2370)">△</text>
<text class="kb" x="800" y="2369">key.</text>

<text class="kb" x="58" y="2406">•</text><text class="tk" transform="matrix(1.15 0 0 1 84 2407)">▽</text><text class="kb" x="113" y="2406">+</text>
<use href="#mk" x="131" y="2384" width="32" height="24"/>
<text class="kb" x="166" y="2406" textLength="374" lengthAdjust="spacing">(Approx.3sec): Press the</text>
<use href="#mk" x="551" y="2384" width="32" height="24"/>
<text class="kb" x="618" y="2406" textLength="560" lengthAdjust="spacing">key for approx. 3 seconds while holding</text>
<text class="kb" x="418" y="2443">down the</text><text class="tk" transform="matrix(1.15 0 0 1 560 2444)">▽</text><text class="kb" x="621" y="2443">key.</text>

<text class="kb" x="58" y="2480">•</text><text class="tk" transform="matrix(1.15 0 0 1 84 2481)">△</text><text class="kb" x="111" y="2480">+</text><text class="tk" transform="matrix(1.15 0 0 1 130 2481)">▽</text>
<text class="kb" x="166" y="2480" textLength="368" lengthAdjust="spacing">(Approx.3sec): Press the</text>
<text class="tk" transform="matrix(1.15 0 0 1 549 2481)">▽</text>
<text class="kb" x="606" y="2480" textLength="558" lengthAdjust="spacing">key for approx. 3 seconds while holding</text>
<text class="kb" x="418" y="2517">down the</text><text class="tk" transform="matrix(1.15 0 0 1 560 2518)">△</text><text class="kb" x="618" y="2517">key.</text>

<text class="kb" x="58" y="2556">•</text>
<path d="M98 2537V2553" stroke="#000" stroke-width="2"/><path d="M91 2552H105L98 2568Z" fill="#000"/>
<use href="#mk" x="113" y="2534" width="32" height="24"/>
<text class="kb" x="151" y="2556" textLength="319" lengthAdjust="spacing">: This means that if the</text>
<use href="#mk" x="480" y="2534" width="34" height="24"/>
<text class="kb" x="546" y="2556" textLength="646" lengthAdjust="spacing">(MODE) key is pressed, the unit proceeds to the</text>
<text class="kb" x="180" y="2593">next setting mode.</text>

<text class="kh" x="56" y="2630">[Setting item]</text>
<text class="kb" x="60" y="2665" textLength="1132" lengthAdjust="spacing">• PV display indicates setting item characters, and SV display indicates default value.</text>
<text class="kb" x="57" y="2704" textLength="513" lengthAdjust="spacing">(*1) CT1 current value and character</text>
<text class="sg" style="font-size:30px;fill:#444" transform="matrix(.7 0 0 1 590 2704)">H</text>
<text class="kb" x="630" y="2704" textLength="346" lengthAdjust="spacing">are indicated alternately.</text>
<text class="kb" x="57" y="2741" textLength="517" lengthAdjust="spacing">(*2) CT2 current value and characters</text>
<text class="sg" style="font-size:30px;fill:#444" transform="matrix(.7 0 0 1 588 2741)">H2</text>
<text class="kb" x="666" y="2741" textLength="346" lengthAdjust="spacing">are indicated alternately.</text>
<text class="kb" x="54" y="2778" textLength="1138" lengthAdjust="spacing">Setting items with dotted lines (shaded) are optional, and they appear only when</text>
<text class="kb" x="54" y="2817" textLength="317" lengthAdjust="spacing">the options are added.</text>
</g>
</svg>
